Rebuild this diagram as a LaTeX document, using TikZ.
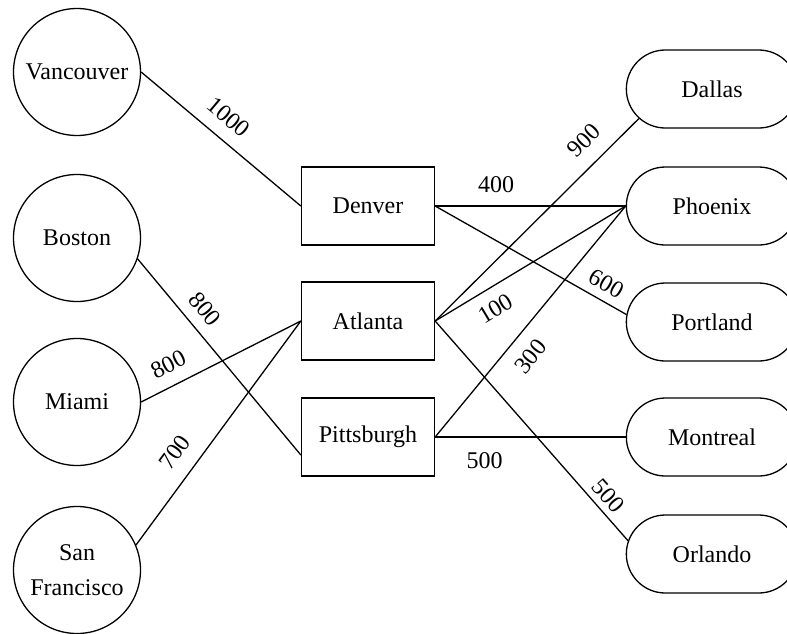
\documentclass[tikz,border=0pt]{standalone}
\usepackage{fontspec}
\setmainfont{Liberation Serif}
\usetikzlibrary{shapes.misc,calc}
\begin{document}
\begin{tikzpicture}[x=1pt,y=-1pt,
  every node/.style={font=\fontsize{24}{35}\selectfont},
  city/.style={draw, circle, minimum size=127pt, inner sep=0pt, line width=1.3pt, align=center},
  hub/.style={draw, rectangle, minimum width=133pt, minimum height=78pt, line width=1.3pt},
  dest/.style={draw, rounded rectangle, minimum width=178pt, minimum height=78pt, line width=1.3pt},
  link/.style={line width=1.3pt},
  lbl/.style={sloped, inner sep=1pt}]
\path[use as bounding box, clip] (0,0) rectangle (787,633);
% sources
\node[city] (van) at (77,72) {Vancouver};
\node[city] (bos) at (77,238) {Boston};
\node[city] (mia) at (77,402) {Miami};
\node[city] (sf) at (77,570) {San\\Francisco};
% hubs
\node[hub] (den) at (368,206) {Denver};
\node[hub] (atl) at (368,321) {Atlanta};
\node[hub] (pit) at (368,437) {Pittsburgh};
% destinations
\node[dest] (dal) at (712,89) {Dallas};
\node[dest] (pho) at (712,206) {Phoenix};
\node[dest] (por) at (712,322) {Portland};
\node[dest] (mon) at (712,437) {Montreal};
\node[dest] (orl) at (712,554) {Orlando};
% connectors
\draw[link] (van.east) -- node[lbl,pos=0.46,above=12pt]{1000} (den.west);
\draw[link] (bos.-19) -- node[lbl,pos=0.32,above=10pt]{800} ($(pit.west)+(0,18)$);
\draw[link] (mia.east) -- node[lbl,pos=0.23,above=11.5pt]{800} (atl.west);
\draw[link] (sf.23) -- node[lbl,pos=0.35,above=14pt]{700} (atl.west);
\draw[link] (den.east) -- node[lbl,pos=0.32,above=12pt]{400} (pho.west);
\draw[link] (den.east) -- node[lbl,pos=0.85,above=7.5pt]{600} (por.175);
\draw[link] (atl.east) -- node[lbl,pos=0.81,above=13.5pt]{900} (dal.202);
\draw[link] (atl.east) -- node[lbl,pos=0.26,below=11pt]{100} (pho.west);
\draw[link] (pit.east) -- node[lbl,pos=0.41,below=12.5pt]{300} (pho.west);
\draw[link] (pit.east) -- node[lbl,pos=0.26,below=14pt]{500} (mon.west);
\draw[link] (atl.east) -- node[lbl,pos=0.84,above=5.5pt]{500} (orl.171);
\end{tikzpicture}
\end{document}
